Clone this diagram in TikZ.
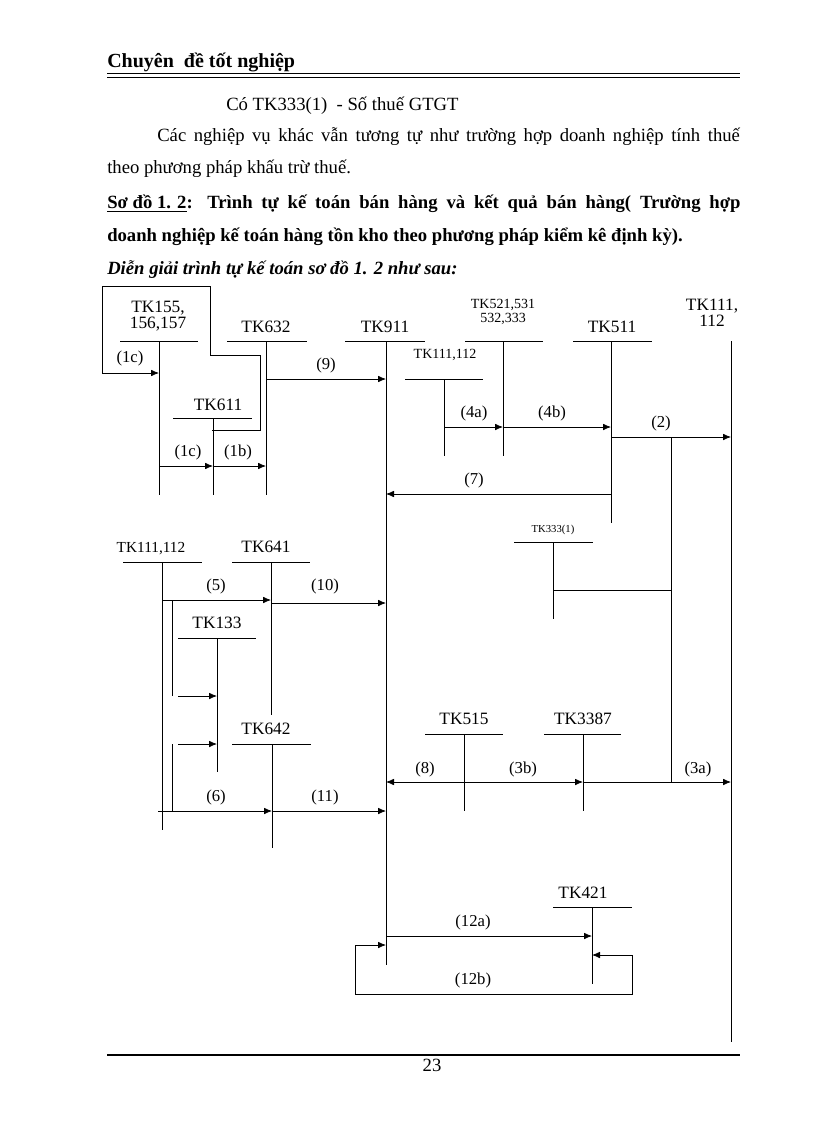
\documentclass[tikz,border=0pt]{standalone}
\usepackage{fontspec}
\setmainfont{Liberation Serif}
\usetikzlibrary{arrows.meta}
\begin{document}
\begin{tikzpicture}[x=0.75pt,y=-0.75pt,
  ln/.style={line width=0.6pt},
  arr/.style={ln,-{Latex[length=6pt,width=5pt]}},
  lbl/.style={font=\fontsize{12.5}{13}\selectfont,inner sep=0pt},
  tk/.style={font=\fontsize{13}{13}\selectfont,inner sep=0pt,align=center},
  body/.style={font=\fontsize{14}{15}\selectfont,inner sep=0pt,anchor=base west}]
\useasboundingbox (0,0) rectangle (816,1123);
% header
\node[body,font=\fontsize{15}{16}\selectfont\bfseries] (hd) at (107,68) {Chuyên\ \ đề tốt nghiệp};
\draw[line width=1.2pt] (107,73.5) -- (740,73.5);
\draw[line width=0.6pt] (107,77) -- (740,77);
\node[body] (l1) at (226,111) {Có TK333(1)\ \ -\ Số thuế GTGT};
\node[body] (l2) at (157,142) {\makebox[437pt][s]{Các nghiệp vụ khác vẫn tương tự như trường hợp doanh nghiệp tính thuế}};
\node[body] (l3) at (107,174) {theo phương pháp khấu trừ thuế.};
\node[body,font=\fontsize{14}{15}\selectfont\bfseries] (l4) at (107,209) {\makebox[475pt][s]{\underline{Sơ đồ 1. 2}: Trình tự kế toán bán hàng và kết quả bán hàng( Trường hợp}};
\node[body,font=\fontsize{14}{15}\selectfont\bfseries] (l5) at (107,242) {doanh nghiệp kế toán hàng tồn kho theo phương pháp kiểm kê định kỳ).};
\node[body,font=\fontsize{14}{15}\selectfont\bfseries\itshape] (l6) at (107,274) {Diễn giải trình tự kế toán sơ đồ 1. 2 như sau:};
% T-account labels
\node[tk] (a155) at (158,316) {TK155,\\[-1pt]156,157};
\node[tk] (a632) at (266,327) {TK632};
\node[tk] (a611) at (218,405) {TK611};
\node[tk] (a911) at (385,327) {TK911};
\node[tk,font=\fontsize{10.5}{10.5}\selectfont] (a111a) at (445,355) {TK111,112};
\node[tk,font=\fontsize{10.5}{10.5}\selectfont] (a521) at (503,312) {TK521,531\\[0pt]532,333};
\node[tk] (a511) at (612,327) {TK511};
\node[tk] (a111r) at (712,313) {TK111,\\[-1pt]112};
\node[tk,font=\fontsize{8}{8}\selectfont] (a333) at (553,530) {TK333(1)};
\node[tk,font=\fontsize{11.5}{11.5}\selectfont] (a111l) at (151,549) {TK111,112};
\node[tk] (a641) at (266,547) {TK641};
\node[tk] (a133) at (217,623) {TK133};
\node[tk] (a642) at (266,729) {TK642};
\node[tk] (a515) at (464,719) {TK515};
\node[tk] (a3387) at (583,719) {TK3387};
\node[tk] (a421) at (583,893) {TK421};
% bars
\draw[ln] (120,341)--(198,341) (227,341)--(307,341) (173,418)--(252,418)
 (345,341)--(425,341) (405,379)--(483,379) (465,341)--(543,341) (573,341)--(652,341)
 (514,542)--(593,542) (123,562)--(202,562) (232,562)--(310,562) (178,638)--(256,638)
 (232,744)--(311,744) (425,734)--(503,734) (544,734)--(621,734) (553,907)--(632,907);
% verticals
\draw[ln] (159,341)--(159,495) (266,341)--(266,495) (213,418)--(213,495)
 (386,341)--(386,965) (444,379)--(444,456) (503,341)--(503,456) (611,341)--(611,523)
 (731,341)--(731,1042) (671,437)--(671,783) (553,542)--(553,619) (553,590)--(671,590)
 (162,562)--(162,830) (271,562)--(271,715) (172,600)--(172,696) (172,744)--(172,811)
 (217,638)--(217,772) (272,744)--(272,848) (464,734)--(464,811) (583,734)--(583,811)
 (592,907)--(592,984);
% loop 1c
\draw[ln] (212,430)--(260,430)--(260,355)--(210,355)--(210,286)--(102,286)--(102,373);
\draw[arr] (102,373)--(159,373);
\node[lbl] at (130,358) {(1c)};
\draw[arr] (159,466)--(213,466); \node[lbl] at (188,452) {(1c)};
\draw[arr] (213,466)--(266,466); \node[lbl] at (238,452) {(1b)};
\draw[arr] (266,379)--(386,379); \node[lbl] at (326,365) {(9)};
\draw[arr] (444,427)--(503,427); \node[lbl] at (474,413) {(4a)};
\draw[arr] (503,427)--(611,427); \node[lbl] at (552,413) {(4b)};
\draw[arr] (611,437)--(731,437); \node[lbl] at (661,423) {(2)};
\draw[arr] (611,494)--(386,494); \node[lbl] at (474,480) {(7)};
\draw[arr] (162,600)--(271,600); \node[lbl] at (216,586) {(5)};
\draw[arr] (271,603)--(386,603); \node[lbl] at (325,586) {(10)};
\draw[arr] (178,696)--(217,696);
\draw[arr] (178,744)--(217,744);
\draw[arr] (158,811)--(272,811); \node[lbl] at (216,797) {(6)};
\draw[arr] (272,811)--(386,811); \node[lbl] at (325,797) {(11)};
\draw[ln,{Latex[length=6pt,width=5pt]}-{Latex[length=6pt,width=5pt]}] (386,782)--(583,782);
\node[lbl] at (425,769) {(8)}; \node[lbl] at (523,769) {(3b)};
\draw[arr] (583,782)--(731,782); \node[lbl] at (698,769) {(3a)};
\draw[arr] (386,936)--(592,936); \node[lbl] at (473,922) {(12a)};
\draw[arr] (632,955)--(592,955);
\draw[ln] (632,955)--(632,994)--(355,994)--(355,945);
\draw[arr] (355,945)--(386,945); \node[lbl] at (473,980) {(12b)};
% footer
\draw[line width=1.3pt] (107,1055)--(740,1055);
\node[body,anchor=base] (pg) at (432,1071) {23};
\end{tikzpicture}
\end{document}
